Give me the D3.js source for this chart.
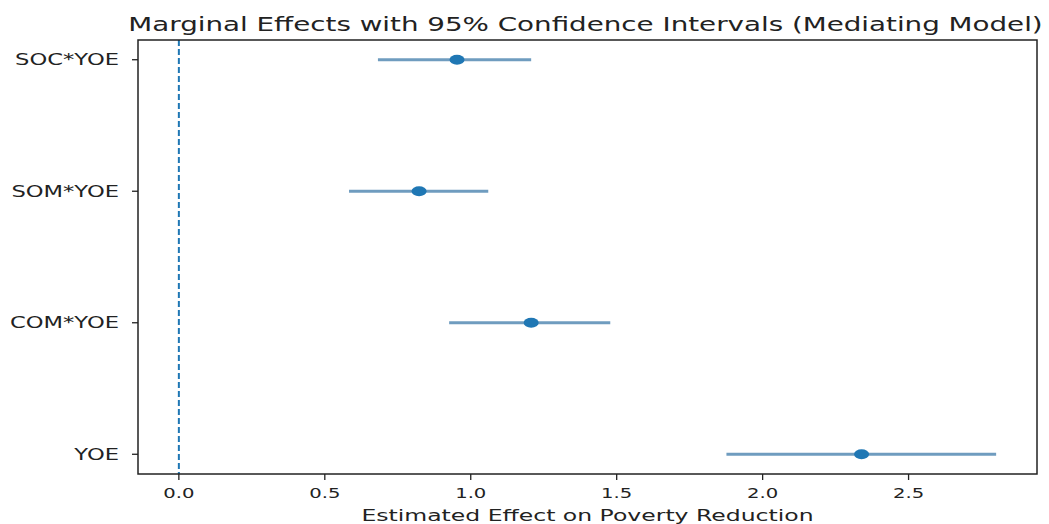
<!DOCTYPE html>
<html>
<head>
<meta charset="utf-8">
<script src="https://cdn.jsdelivr.net/npm/d3@7"></script>
<style>
  body { margin: 0; background: #fff; }
  text { font-family: "DejaVu Sans", sans-serif; fill: #222; }
</style>
</head>
<body>
<div id="chart"></div>
<script>
// terms, top to bottom
const terms = ['SOC*YOE', 'SOM*YOE', 'COM*YOE', 'YOE'];
const effects = [0.953, 0.823, 1.207, 2.339];
const ciLow = [0.682, 0.583, 0.926, 1.876];
const ciHigh = [1.207, 1.060, 1.478, 2.800];
const xTicks = [0.0, 0.5, 1.0, 1.5, 2.0, 2.5];

const W = 1049, H = 524;
const margin = { top: 40, right: 12, bottom: 50, left: 138 };
const width = W - margin.left - margin.right;
const height = H - margin.top - margin.bottom;

const svg = d3.select('#chart').append('svg')
  .attr('width', W)
  .attr('height', H);

const g = svg.append('g')
  .attr('transform', `translate(${margin.left},${margin.top})`);

// matplotlib style 5% padding
const xMin = 0, xMax = d3.max(ciHigh);
const xPad = (xMax - xMin) * 0.05;
const x = d3.scaleLinear()
  .domain([xMin - xPad, xMax + xPad])
  .range([0, width]);

const y = d3.scaleLinear()
  .domain([-0.15, terms.length - 1 + 0.15])
  .range([0, height]);

// zero line
g.append('line')
  .attr('x1', x(0)).attr('x2', x(0))
  .attr('y1', 0).attr('y2', height)
  .attr('stroke', '#1f77b4')
  .attr('stroke-width', 2)
  .attr('stroke-dasharray', '6,3');

// confidence intervals
g.selectAll('line.ci')
  .data(terms)
  .enter()
  .append('line')
  .attr('class', 'ci')
  .attr('x1', (d, i) => x(ciLow[i]))
  .attr('x2', (d, i) => x(ciHigh[i]))
  .attr('y1', (d, i) => y(i))
  .attr('y2', (d, i) => y(i))
  .attr('stroke', '#6f9cbf')
  .attr('stroke-width', 3.2);

// point estimates
g.selectAll('ellipse.pt')
  .data(terms)
  .enter()
  .append('ellipse')
  .attr('class', 'pt')
  .attr('cx', (d, i) => x(effects[i]))
  .attr('cy', (d, i) => y(i))
  .attr('rx', 7.5)
  .attr('ry', 5)
  .attr('fill', '#1f77b4');

// frame
g.append('rect')
  .attr('width', width)
  .attr('height', height)
  .attr('fill', 'none')
  .attr('stroke', '#222')
  .attr('stroke-width', 1.5);

// x axis
const xAxis = g.append('g')
  .attr('transform', `translate(0,${height})`);
xAxis.selectAll('line.tick')
  .data(xTicks)
  .enter()
  .append('line')
  .attr('x1', d => x(d)).attr('x2', d => x(d))
  .attr('y1', 0).attr('y2', 6)
  .attr('stroke', '#222')
  .attr('stroke-width', 1.3);
xAxis.selectAll('text')
  .data(xTicks)
  .enter()
  .append('text')
  .attr('transform', d => `translate(${x(d)},24) scale(1.4,1)`)
  .attr('text-anchor', 'middle')
  .style('font-size', '14px')
  .text(d => d.toFixed(1));

// y axis
const yAxis = g.append('g');
yAxis.selectAll('line.tick')
  .data(terms)
  .enter()
  .append('line')
  .attr('x1', -6).attr('x2', 0)
  .attr('y1', (d, i) => y(i)).attr('y2', (d, i) => y(i))
  .attr('stroke', '#222')
  .attr('stroke-width', 1.3);
yAxis.selectAll('text')
  .data(terms)
  .enter()
  .append('text')
  .attr('transform', (d, i) => `translate(-19,${y(i) + 5.5}) scale(1.46,1)`)
  .attr('text-anchor', 'end')
  .style('font-size', '15.5px')
  .text(d => d);

// labels
svg.append('text')
  .attr('transform', `translate(${margin.left + width / 2},${H - 3}) scale(1.47,1)`)
  .attr('text-anchor', 'middle')
  .style('font-size', '16px')
  .text('Estimated Effect on Poverty Reduction');

svg.append('text')
  .attr('transform', `translate(${margin.left + width / 2 - 2},31) scale(1.46,1)`)
  .attr('text-anchor', 'middle')
  .style('font-size', '19px')
  .text('Marginal Effects with 95% Confidence Intervals (Mediating Model)');
</script>
</body>
</html>
